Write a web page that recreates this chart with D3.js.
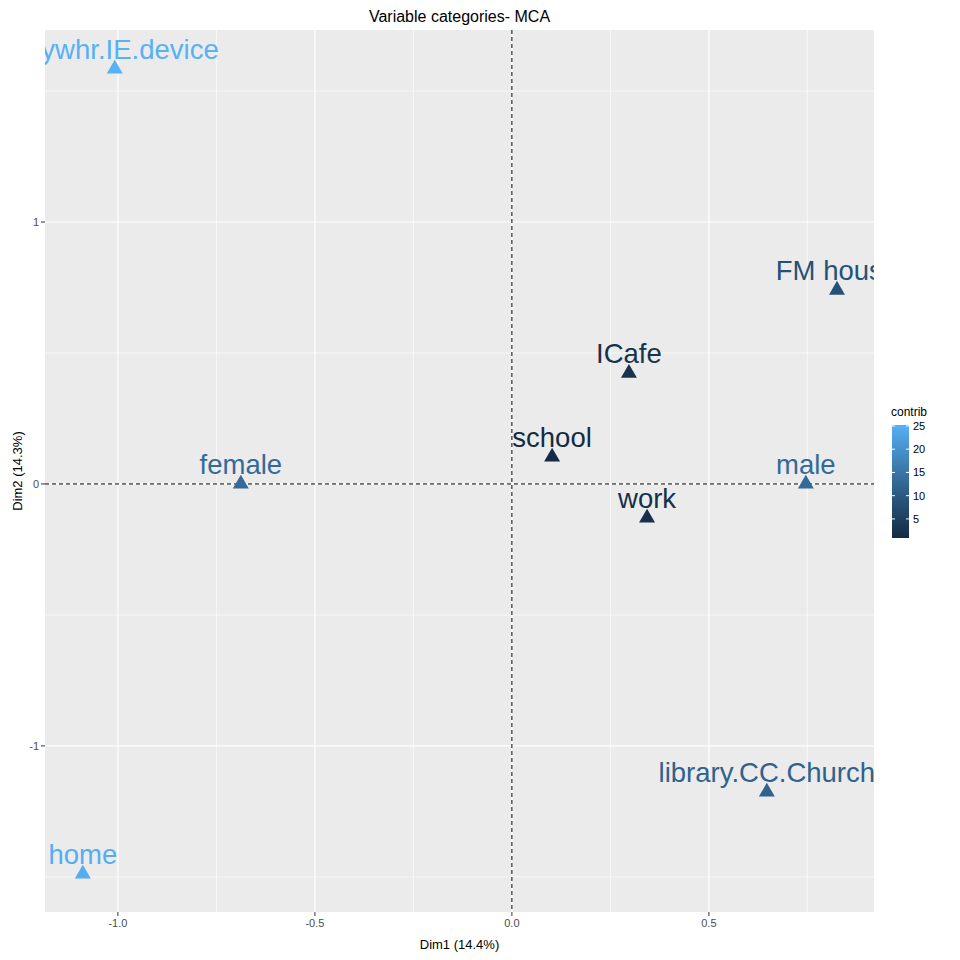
<!DOCTYPE html>
<html><head><meta charset="utf-8">
<script src="https://cdn.jsdelivr.net/npm/d3@7"></script>
<style>body{margin:0;background:#fff}text{font-family:"Liberation Sans",Arial,sans-serif}</style>
</head><body><svg id="c" width="960" height="960"></svg>
<script>
const labels=["anywhr.IE.device","home","female","school","ICafe","FM house","male","work","library.CC.Church"];
const dim1=[-1.008,-1.089,-0.688,0.102,0.297,0.825,0.746,0.343,0.647];
const dim2=[1.588,-1.485,0.004,0.107,0.427,0.744,0.004,-0.126,-1.172];
const contrib=[25.2,24.6,13.0,1.0,2.6,8.5,13.0,2.0,11.5];
const xTicks=[-1.0,-0.5,0.0,0.5], yTicks=[-1,0,1];
const svg=d3.select("#c");
const L=45,R=874,T=30,B=912;
const x=d3.scaleLinear().domain([-1.185,0.919]).range([L,R]);
const y=d3.scaleLinear().domain([-1.634,1.733]).range([B,T]);
const col=d3.scaleLinear().domain([0.9,25.2]).range(["#132B43","#56B1F7"]).interpolate(d3.interpolateLab);
svg.append("rect").attr("x",L).attr("y",T).attr("width",R-L).attr("height",B-T).attr("fill","#EBEBEB");
svg.append("defs").append("clipPath").attr("id","cp").append("rect").attr("x",L).attr("y",T).attr("width",R-L).attr("height",B-T);
const g=svg.append("g").attr("clip-path","url(#cp)");
[-1.25,-0.75,-0.25,0.25,0.75].forEach(v=>g.append("line").attr("x1",x(v)).attr("x2",x(v)).attr("y1",T).attr("y2",B).attr("stroke","#fff").attr("stroke-width",0.6));
[-1.5,-0.5,0.5,1.5].forEach(v=>g.append("line").attr("y1",y(v)).attr("y2",y(v)).attr("x1",L).attr("x2",R).attr("stroke","#fff").attr("stroke-width",0.6));
xTicks.forEach(v=>g.append("line").attr("x1",x(v)).attr("x2",x(v)).attr("y1",T).attr("y2",B).attr("stroke","#fff").attr("stroke-width",1.2));
yTicks.forEach(v=>g.append("line").attr("y1",y(v)).attr("y2",y(v)).attr("x1",L).attr("x2",R).attr("stroke","#fff").attr("stroke-width",1.2));
g.append("line").attr("x1",x(0)).attr("x2",x(0)).attr("y1",T).attr("y2",B).attr("stroke","#000").attr("stroke-dasharray","4,3");
g.append("line").attr("y1",y(0)).attr("y2",y(0)).attr("x1",L).attr("x2",R).attr("stroke","#000").attr("stroke-dasharray","4,3");
const tri=d3.symbol().type(d3.symbolTriangle).size(110);
labels.forEach((l,i)=>{
  g.append("path").attr("d",tri).attr("transform",`translate(${x(dim1[i])},${y(dim2[i])+1})`).attr("fill",col(contrib[i]));
  g.append("text").attr("x",x(dim1[i])).attr("y",y(dim2[i])-9).attr("text-anchor","middle").attr("font-size",27.5).attr("fill",col(contrib[i])).text(l);
});
xTicks.forEach(v=>{svg.append("line").attr("x1",x(v)).attr("x2",x(v)).attr("y1",B).attr("y2",B+4).attr("stroke","#333");
 svg.append("text").attr("x",x(v)).attr("y",B+15).attr("text-anchor","middle").attr("font-size",11).attr("fill","#4D4D4D").text(v.toFixed(1));});
yTicks.forEach(v=>{svg.append("line").attr("x1",L-4).attr("x2",L).attr("y1",y(v)).attr("y2",y(v)).attr("stroke","#333");
 svg.append("text").attr("x",L-6).attr("y",y(v)+4).attr("text-anchor","end").attr("font-size",11).attr("fill","#4D4D4D").text(v);});
svg.append("text").attr("x",(L+R)/2).attr("y",22).attr("text-anchor","middle").attr("font-size",16).text("Variable categories- MCA");
svg.append("text").attr("x",(L+R)/2).attr("y",949).attr("text-anchor","middle").attr("font-size",13).text("Dim1 (14.4%)");
svg.append("text").attr("transform",`translate(22,${(T+B)/2}) rotate(-90)`).attr("text-anchor","middle").attr("font-size",13).text("Dim2 (14.3%)");
const lg=svg.append("defs").append("linearGradient").attr("id","lg").attr("x1",0).attr("x2",0).attr("y1",1).attr("y2",0);
d3.range(0,1.01,0.1).forEach(t=>lg.append("stop").attr("offset",t).attr("stop-color",col(0.9+t*24.3)));
const ly=d3.scaleLinear().domain([0.9,25.2]).range([538,425]);
svg.append("text").attr("x",891).attr("y",416).attr("font-size",12).text("contrib");
svg.append("rect").attr("x",892).attr("y",425).attr("width",17).attr("height",113).attr("fill","url(#lg)");
[5,10,15,20,25].forEach(v=>{
 svg.append("line").attr("x1",892).attr("x2",895).attr("y1",ly(v)).attr("y2",ly(v)).attr("stroke","#fff");
 svg.append("line").attr("x1",906).attr("x2",909).attr("y1",ly(v)).attr("y2",ly(v)).attr("stroke","#fff");
 svg.append("text").attr("x",913).attr("y",ly(v)+4).attr("font-size",11).attr("fill","#000").text(v);});
</script></body></html>
